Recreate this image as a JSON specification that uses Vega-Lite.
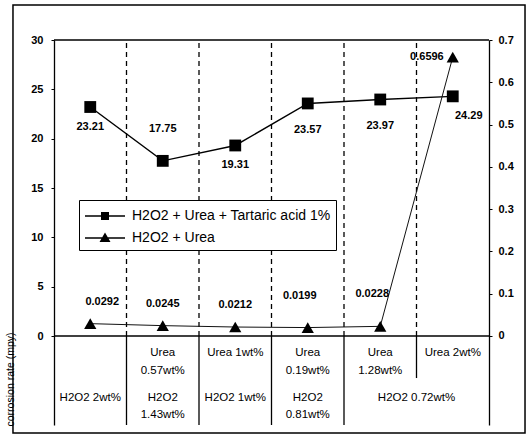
{
  "$schema": "https://vega.github.io/schema/vega-lite/v6.json",
  "width": 435,
  "height": 385,
  "autosize": {"type": "none"},
  "padding": {"left": 54, "top": 40, "right": 41, "bottom": 11},
  "background": "white",
  "config": {
    "view": {"stroke": null},
    "font": "Liberation Sans",
    "text": {"font": "Liberation Sans", "color": "black"}
  },
  "datasets": {
    "main": [
      {"sample": "1", "tartaric": 23.21, "urea_only": 0.0292, "urea": "", "h2o2": "H2O2 2wt%"},
      {"sample": "2", "tartaric": 17.75, "urea_only": 0.0245, "urea": ["Urea", "0.57wt%"], "h2o2": ["H2O2", "1.43wt%"]},
      {"sample": "3", "tartaric": 19.31, "urea_only": 0.0212, "urea": "Urea 1wt%", "h2o2": "H2O2 1wt%"},
      {"sample": "4", "tartaric": 23.57, "urea_only": 0.0199, "urea": ["Urea", "0.19wt%"], "h2o2": ["H2O2", "0.81wt%"]},
      {"sample": "5", "tartaric": 23.97, "urea_only": 0.0228, "urea": ["Urea", "1.28wt%"], "h2o2": "H2O2 0.72wt%"},
      {"sample": "6", "tartaric": 24.29, "urea_only": 0.6596, "urea": "Urea 2wt%", "h2o2": "H2O2 0.72wt%"}
    ]
  },
  "data": {"name": "main"},
  "layer": [
    {
      "layer": [
        {
          "transform": [{"filter": "datum.sample != '1'"}],
          "mark": {"type": "rule", "strokeDash": [5, 4], "strokeWidth": 1.3, "color": "black"},
          "encoding": {
            "x": {"field": "sample", "type": "nominal", "bandPosition": 0, "scale": {"type": "band", "paddingInner": 0, "paddingOuter": 0}, "axis": null},
            "y": {"datum": 0},
            "y2": {"datum": 30}
          }
        },
        {
          "transform": [{"filter": "datum.sample != '1' && datum.sample != '6'"}],
          "mark": {"type": "rule", "strokeWidth": 1.3, "color": "black"},
          "encoding": {
            "x": {"field": "sample", "type": "nominal", "bandPosition": 0, "scale": {"type": "band", "paddingInner": 0, "paddingOuter": 0}, "axis": null},
            "y": {"datum": 0},
            "y2": {"datum": -9.02}
          }
        },
        {
          "transform": [{"filter": "datum.sample == '6'"}],
          "mark": {"type": "rule", "strokeWidth": 1.3, "color": "black"},
          "encoding": {
            "x": {"field": "sample", "type": "nominal", "bandPosition": 0, "scale": {"type": "band", "paddingInner": 0, "paddingOuter": 0}, "axis": null},
            "y": {"datum": 0},
            "y2": {"datum": -4.26}
          }
        },
        {
          "data": {"values": [{"level": 0}, {"level": 30}]},
          "mark": {"type": "rule", "strokeWidth": 1.3, "color": "black"},
          "encoding": {
            "y": {"field": "level", "type": "quantitative"}
          }
        },
        {
          "mark": {"type": "line", "color": "black", "strokeWidth": 1.4},
          "encoding": {
            "x": {"field": "sample", "type": "nominal", "bandPosition": 0.5, "scale": {"type": "band", "paddingInner": 0, "paddingOuter": 0}, "axis": null},
            "y": {
              "field": "tartaric",
              "type": "quantitative",
              "scale": {"domain": [-9.02, 30], "nice": false, "zero": false},
              "axis": {
                "orient": "left",
                "values": [0, 5, 10, 15, 20, 25, 30],
                "title": "corrosion rate (mpy)",
                "titleX": -44,
                "titleY": 339,
                "titleAngle": -90,
                "titleAlign": "center",
                "titleBaseline": "middle",
                "titleFontSize": 10.5,
                "titleFontWeight": "normal",
                "titleColor": "black",
                "domainColor": "black",
                "domainWidth": 1.3,
                "tickColor": "black",
                "tickSize": 3,
                "labelFontSize": 11,
                "labelFontWeight": "bold",
                "labelColor": "black",
                "labelPadding": 8,
                "grid": false
              }
            }
          }
        },
        {
          "mark": {"type": "point", "shape": "square", "filled": true, "color": "black", "size": 140, "opacity": 1},
          "encoding": {
            "x": {"field": "sample", "type": "nominal", "bandPosition": 0.5, "scale": {"type": "band", "paddingInner": 0, "paddingOuter": 0}, "axis": null},
            "y": {"field": "tartaric", "type": "quantitative"}
          }
        },
        {
          "transform": [{"filter": "datum.sample == '1' || datum.sample == '3'"}],
          "mark": {"type": "text", "fontSize": 11, "fontWeight": "bold", "dy": 20, "baseline": "middle"},
          "encoding": {
            "x": {"field": "sample", "type": "nominal", "bandPosition": 0.5, "scale": {"type": "band", "paddingInner": 0, "paddingOuter": 0}, "axis": null},
            "y": {"field": "tartaric", "type": "quantitative"},
            "text": {"field": "tartaric", "type": "quantitative"}
          }
        },
        {
          "transform": [{"filter": "datum.sample == '4' || datum.sample == '5'"}],
          "mark": {"type": "text", "fontSize": 11, "fontWeight": "bold", "dy": 27, "baseline": "middle"},
          "encoding": {
            "x": {"field": "sample", "type": "nominal", "bandPosition": 0.5, "scale": {"type": "band", "paddingInner": 0, "paddingOuter": 0}, "axis": null},
            "y": {"field": "tartaric", "type": "quantitative"},
            "text": {"field": "tartaric", "type": "quantitative"}
          }
        },
        {
          "transform": [{"filter": "datum.sample == '2'"}],
          "mark": {"type": "text", "fontSize": 11, "fontWeight": "bold", "dy": -32, "baseline": "middle"},
          "encoding": {
            "x": {"field": "sample", "type": "nominal", "bandPosition": 0.5, "scale": {"type": "band", "paddingInner": 0, "paddingOuter": 0}, "axis": null},
            "y": {"field": "tartaric", "type": "quantitative"},
            "text": {"field": "tartaric", "type": "quantitative"}
          }
        },
        {
          "transform": [{"filter": "datum.sample == '6'"}],
          "mark": {"type": "text", "fontSize": 11, "fontWeight": "bold", "dx": 16, "dy": 20, "baseline": "middle"},
          "encoding": {
            "x": {"field": "sample", "type": "nominal", "bandPosition": 0.5, "scale": {"type": "band", "paddingInner": 0, "paddingOuter": 0}, "axis": null},
            "y": {"field": "tartaric", "type": "quantitative"},
            "text": {"field": "tartaric", "type": "quantitative"}
          }
        },
        {
          "mark": {"type": "text", "fontSize": 11.5, "baseline": "top", "lineHeight": 18},
          "encoding": {
            "x": {"field": "sample", "type": "nominal", "bandPosition": 0.5, "scale": {"type": "band", "paddingInner": 0, "paddingOuter": 0}, "axis": null},
            "y": {"datum": -1.115},
            "text": {"field": "urea", "type": "nominal"}
          }
        },
        {
          "transform": [{"filter": "datum.sample != '5' && datum.sample != '6'"}],
          "mark": {"type": "text", "fontSize": 11.5, "baseline": "top", "lineHeight": 17},
          "encoding": {
            "x": {"field": "sample", "type": "nominal", "bandPosition": 0.5, "scale": {"type": "band", "paddingInner": 0, "paddingOuter": 0}, "axis": null},
            "y": {"datum": -5.676},
            "text": {"field": "h2o2", "type": "nominal"}
          }
        },
        {
          "transform": [{"filter": "datum.sample == '6'"}],
          "mark": {"type": "text", "fontSize": 11.5, "baseline": "top"},
          "encoding": {
            "x": {"field": "sample", "type": "nominal", "bandPosition": 0, "scale": {"type": "band", "paddingInner": 0, "paddingOuter": 0}, "axis": null},
            "y": {"datum": -5.676},
            "text": {"field": "h2o2", "type": "nominal"}
          }
        }
      ]
    },
    {
      "layer": [
        {
          "mark": {"type": "line", "color": "#111111", "strokeWidth": 1},
          "encoding": {
            "x": {"field": "sample", "type": "nominal", "bandPosition": 0.5, "scale": {"type": "band", "paddingInner": 0, "paddingOuter": 0}, "axis": null},
            "y": {
              "field": "urea_only",
              "type": "quantitative",
              "scale": {"domain": [-0.2105, 0.7], "nice": false, "zero": false},
              "axis": {
                "orient": "right",
                "values": [0, 0.1, 0.2, 0.3, 0.4, 0.5, 0.6, 0.7],
                "format": "~g",
                "title": null,
                "domainColor": "black",
                "domainWidth": 1.3,
                "tickColor": "black",
                "tickSize": 3,
                "labelFontSize": 11,
                "labelFontWeight": "bold",
                "labelColor": "black",
                "labelPadding": 6,
                "grid": false
              }
            }
          }
        },
        {
          "mark": {"type": "point", "shape": "triangle-up", "filled": true, "color": "black", "size": 150, "opacity": 1},
          "encoding": {
            "x": {"field": "sample", "type": "nominal", "bandPosition": 0.5, "scale": {"type": "band", "paddingInner": 0, "paddingOuter": 0}, "axis": null},
            "y": {"field": "urea_only", "type": "quantitative"}
          }
        },
        {
          "transform": [{"filter": "datum.sample == '2' || datum.sample == '3'"}],
          "mark": {"type": "text", "fontSize": 11, "fontWeight": "bold", "dy": -22, "baseline": "middle"},
          "encoding": {
            "x": {"field": "sample", "type": "nominal", "bandPosition": 0.5, "scale": {"type": "band", "paddingInner": 0, "paddingOuter": 0}, "axis": null},
            "y": {"field": "urea_only", "type": "quantitative"},
            "text": {"field": "urea_only", "type": "quantitative"}
          }
        },
        {
          "transform": [{"filter": "datum.sample == '1'"}],
          "mark": {"type": "text", "fontSize": 11, "fontWeight": "bold", "dx": 12, "dy": -22, "baseline": "middle"},
          "encoding": {
            "x": {"field": "sample", "type": "nominal", "bandPosition": 0.5, "scale": {"type": "band", "paddingInner": 0, "paddingOuter": 0}, "axis": null},
            "y": {"field": "urea_only", "type": "quantitative"},
            "text": {"field": "urea_only", "type": "quantitative"}
          }
        },
        {
          "transform": [{"filter": "datum.sample == '4' || datum.sample == '5'"}],
          "mark": {"type": "text", "fontSize": 11, "fontWeight": "bold", "dx": -8, "dy": -32, "baseline": "middle"},
          "encoding": {
            "x": {"field": "sample", "type": "nominal", "bandPosition": 0.5, "scale": {"type": "band", "paddingInner": 0, "paddingOuter": 0}, "axis": null},
            "y": {"field": "urea_only", "type": "quantitative"},
            "text": {"field": "urea_only", "type": "quantitative"}
          }
        },
        {
          "transform": [{"filter": "datum.sample == '6'"}],
          "mark": {"type": "text", "fontSize": 11, "fontWeight": "bold", "dx": -9, "dy": 0, "align": "right", "baseline": "middle"},
          "encoding": {
            "x": {"field": "sample", "type": "nominal", "bandPosition": 0.5, "scale": {"type": "band", "paddingInner": 0, "paddingOuter": 0}, "axis": null},
            "y": {"field": "urea_only", "type": "quantitative"},
            "text": {"field": "urea_only", "type": "quantitative"}
          }
        }
      ]
    },
    {
      "data": {"values": [{"series": "H2O2 + Urea + Tartaric acid 1%"}, {"series": "H2O2 + Urea"}]},
      "transform": [{"filter": "false"}],
      "mark": {"type": "point", "filled": true, "color": "black", "opacity": 1},
      "encoding": {
        "shape": {
          "field": "series",
          "type": "nominal",
          "scale": {
            "domain": ["H2O2 + Urea + Tartaric acid 1%", "H2O2 + Urea"],
            "range": ["M-1,-0.07H3V0.07H-1ZM0.6,-0.4H1.4V0.4H0.6Z", "M-1,-0.07H3V0.07H-1ZM1,-0.55L1.55,0.4H0.45Z"]
          },
          "legend": {
            "title": null,
            "orient": "none",
            "legendX": 25,
            "legendY": 160,
            "direction": "vertical",
            "strokeColor": "black",
            "fillColor": "white",
            "padding": 5,
            "symbolSize": 400,
            "symbolFillColor": "black",
            "symbolOpacity": 1,
            "labelOffset": 26,
            "labelLimit": 400,
            "rowPadding": 4,
            "labelFontSize": 14,
            "labelColor": "black",
            "labelFont": "Liberation Sans",
            "encode": {
              "legend": {"update": {"strokeWidth": {"value": 1.5}}},
              "symbols": {
                "update": {
                  "fill": {"value": "black"},
                  "fillOpacity": {"value": 1}
                }
              }
            }
          }
        }
      }
    },
    {
      "data": {"values": [{"box": "frame"}]},
      "mark": {"type": "rect", "filled": false, "color": "black", "strokeWidth": 1.5, "clip": false},
      "encoding": {
        "x": {"datum": -0.0943, "type": "quantitative", "scale": {"domain": [0, 1], "nice": false, "zero": false}, "axis": null},
        "x2": {"datum": 1.0828},
        "y": {"datum": 1.0909, "type": "quantitative", "scale": {"domain": [0, 1], "nice": false, "zero": false}, "axis": null},
        "y2": {"datum": -0.0208}
      }
    }
  ],
  "resolve": {"scale": {"x": "independent", "y": "independent"}}
}
